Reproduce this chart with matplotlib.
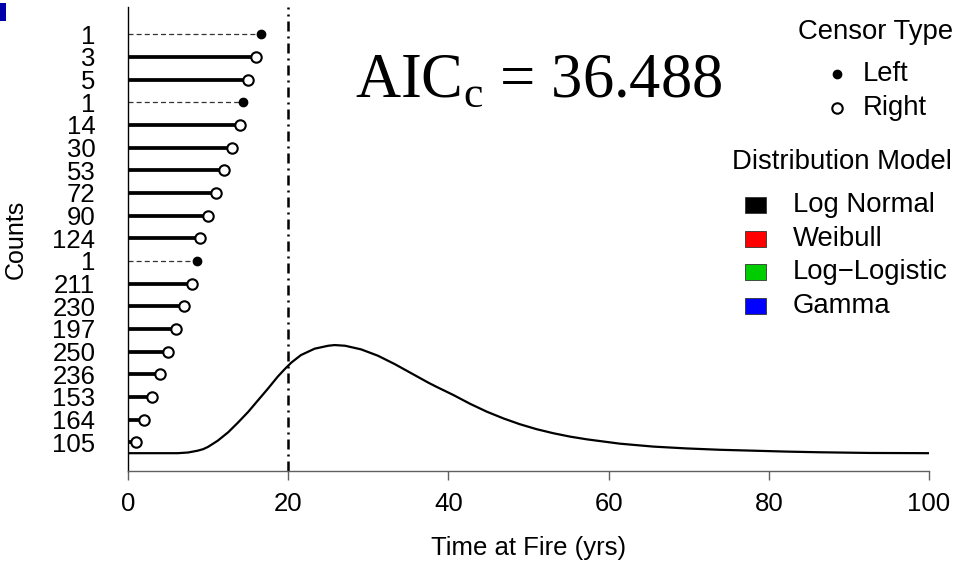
import matplotlib.pyplot as plt
from matplotlib.patches import Rectangle

plt.rcParams['font.family'] = ['Liberation Sans', 'DejaVu Sans']
plt.rcParams['mathtext.fontset'] = 'custom'
plt.rcParams['mathtext.rm'] = 'Liberation Serif'

# records, listed top to bottom
counts = ['1', '3', '5', '1', '14', '30', '53', '72', '90', '124',
          '1', '211', '230', '197', '250', '236', '153', '164', '105']
fire_times = [16.6, 16, 15, 14.3, 14, 13, 12, 11, 10, 9,
              8.6, 8, 7, 6, 5, 4, 3, 2, 1]
censor = ['left', 'right', 'right', 'left', 'right', 'right', 'right', 'right', 'right', 'right',
          'left', 'right', 'right', 'right', 'right', 'right', 'right', 'right', 'right']

# fitted log normal curve (in row units)
curve_x = [0, 6.2, 7.5, 8.7, 9.4, 10.0, 11.2, 12.5, 13.7, 15.0, 16.2, 17.5, 18.7, 19.6, 20.4,
           21.6, 23.3, 25.0, 25.8, 27.1, 29.1, 31.2, 33.3, 35.4, 37.5, 38.5, 40.6, 42.7,
           44.8, 46.9, 48.9, 51.0, 53.1, 55.2, 57.3, 61.4, 65.6, 69.7, 73.9, 78.1, 82.2,
           86.4, 92.6, 100]
curve_y = [0.52, 0.52, 0.55, 0.63, 0.70, 0.80, 1.07, 1.44, 1.86, 2.34, 2.84, 3.38, 3.90, 4.24, 4.52,
           4.85, 5.13, 5.26, 5.29, 5.26, 5.10, 4.82, 4.45, 4.04, 3.63, 3.45, 3.09, 2.70,
           2.35, 2.05, 1.80, 1.58, 1.40, 1.25, 1.13, 0.94, 0.81, 0.73, 0.67, 0.63, 0.59,
           0.56, 0.53, 0.52]

threshold = 20
aicc = 36.488
models = ['Log Normal', 'Weibull', 'Log\u2212Logistic', 'Gamma']
model_colors = ['#000000', '#FF0000', '#00CD00', '#0000FF']

fig = plt.figure(figsize=(9.55, 5.64), dpi=100)
ax = fig.add_axes([128 / 955, 1 - 471 / 564, 801 / 955, 464 / 564])

rows = list(range(len(counts), 0, -1))
for y, t, c in zip(rows, fire_times, censor):
    if c == 'left':
        ax.plot([0, t], [y, y], color='#333333', lw=0.9, dashes=(4, 2.5), zorder=2)
        ax.plot(t, y, 'o', color='black', ms=6, zorder=4)
    else:
        ax.plot([0, t], [y, y], color='black', lw=2.7, solid_capstyle='butt', zorder=2)
        ax.plot(t, y, 'o', mfc='white', mec='black', mew=1.5, ms=7.5, zorder=4)

ax.plot(curve_x, curve_y, color='black', lw=1.6, zorder=3)
ax.axvline(threshold, color='black', lw=1.8, dashes=(4, 2, 0.8, 2), zorder=1)

ax.set_xlim(0, 100)
ax.set_ylim(-0.266, 20.204)
ax.set_xticks([0, 20, 40, 60, 80, 100])
ax.set_yticks(rows)
ax.set_yticklabels(counts)
ax.tick_params(axis='y', length=0, pad=23.5, labelsize=18.5)
ax.tick_params(axis='x', length=6.5, width=1, color='#606060', pad=8.5, labelsize=18.5)
for s in ['top', 'right']:
    ax.spines[s].set_visible(False)
ax.spines['left'].set_linewidth(1.0)
ax.spines['bottom'].set_color('#606060')
ax.spines['bottom'].set_linewidth(1.0)

ax.set_xlabel('Time at Fire (yrs)', fontsize=18.5, va='center')
ax.xaxis.set_label_coords(0.5, (471 - 548) / 464)
ax.set_ylabel('Counts', fontsize=18, va='center')
ax.yaxis.set_label_coords((16 - 128) / 801, 0.5)

# overlay in pixel coordinates for the annotations and legends
ov = fig.add_axes([0, 0, 1, 1])
ov.set_xlim(0, 955)
ov.set_ylim(564, 0)
ov.axis('off')

ov.text(355, 97, 'AIC$_{\\rm c}$ = %.3f' % aicc, family='Liberation Serif',
        fontsize=45, ha='left', va='baseline')

ov.text(953, 32, 'Censor Type', fontsize=19.8, ha='right', va='center')
ov.plot(837, 74, 'o', color='black', ms=6)
ov.text(863, 74, 'Left', fontsize=19.8, ha='left', va='center')
ov.plot(837, 108, 'o', mfc='white', mec='black', mew=1.5, ms=7.5)
ov.text(863, 108, 'Right', fontsize=19.8, ha='left', va='center')

ov.text(952, 162, 'Distribution Model', fontsize=19.8, ha='right', va='center')
for i, (m, col) in enumerate(zip(models, model_colors)):
    yc = 205 + i * 33.7
    ov.add_patch(Rectangle((745, yc - 8), 21, 16, facecolor=col, edgecolor='#333333', lw=0.6))
    ov.text(793, yc, m, fontsize=19.8, ha='left', va='center')

ov.add_patch(Rectangle((0, 3), 6, 18, facecolor='#0000AA', edgecolor='none'))

fig.savefig('out.png', dpi=100)
